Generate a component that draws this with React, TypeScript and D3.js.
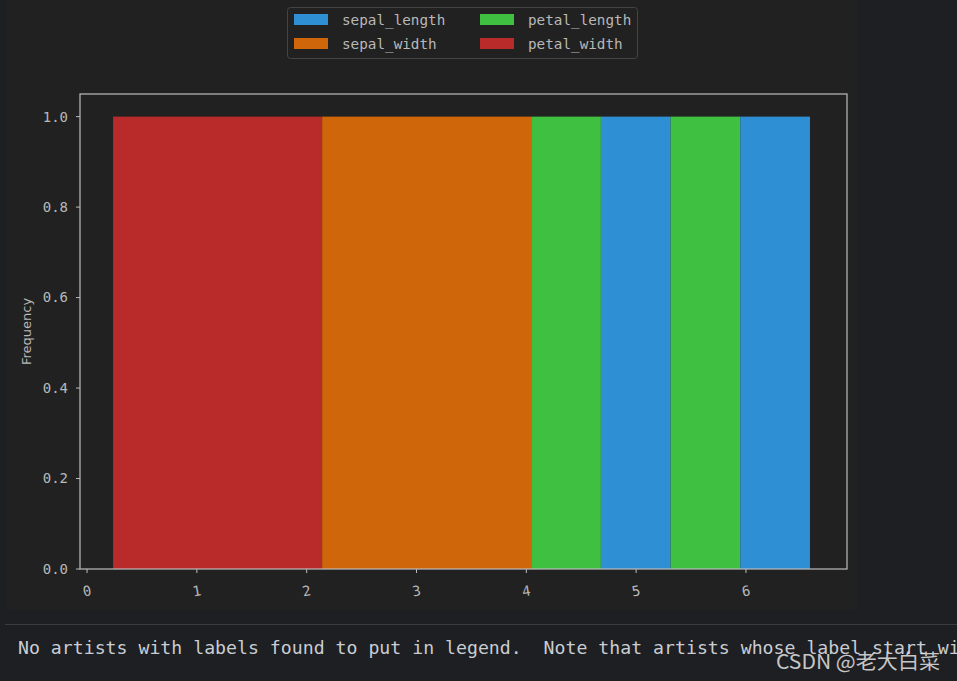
import React from "react";
import * as d3 from "d3";

const seriesNames = ["sepal_length", "sepal_width", "petal_length", "petal_width"];
const seriesColors = ["#2f8fd4", "#d0660a", "#40c040", "#b92a2b"];

// histogram segments (contiguous bins of the same series merged)
const segStart = [0.237, 2.141, 4.044, 4.679, 5.314, 5.948];
const segEnd = [2.141, 4.044, 4.679, 5.314, 5.948, 6.583];
const segSeries = [3, 1, 2, 0, 2, 0];
const segValue = [1, 1, 1, 1, 1, 1];

const xTicks = [0, 1, 2, 3, 4, 5, 6];
const yTicks = [0, 0.2, 0.4, 0.6, 0.8, 1.0];

const warningText =
  "No artists with labels found to put in legend.  Note that artists whose label start with an underscore are ignored when legend() is called with no argument.";

export default function App() {
  const W = 957;
  const H = 681;
  const left = 80, right = 847, top = 94, bottom = 569;
  const x = d3.scaleLinear().domain([-0.064, 6.92]).range([left, right]);
  const y = d3.scaleLinear().domain([0, 1.05]).range([bottom, top]);
  const tickColor = "#b8b8b8";
  const mono = "'DejaVu Sans Mono', 'Liberation Mono', monospace";

  return (
    <svg
      width={W}
      height={H}
      style={{ position: "absolute", left: 0, top: 0, display: "block" }}
    >
      <rect x={0} y={0} width={W} height={H} fill="#1e1f22" />
      <rect x={7} y={0} width={850} height={610} fill="#212121" />
      {/* bars */}
      {segStart.map((s, i) => (
        <rect
          key={i}
          x={x(s)}
          y={y(segValue[i])}
          width={x(segEnd[i]) - x(s)}
          height={y(0) - y(segValue[i])}
          fill={seriesColors[segSeries[i]]}
        />
      ))}
      {/* frame */}
      <rect
        x={left}
        y={top}
        width={right - left}
        height={bottom - top}
        fill="none"
        stroke="#bdbdbd"
        strokeWidth={1.2}
      />
      {/* y ticks */}
      {yTicks.map((t) => (
        <g key={t}>
          <line x1={left - 4} x2={left} y1={y(t)} y2={y(t)} stroke="#bdbdbd" strokeWidth={1} />
          <text
            x={left - 12}
            y={y(t)}
            dy="0.35em"
            textAnchor="end"
            fill={tickColor}
            fontFamily={mono}
            fontSize={14}
          >
            {d3.format(".1f")(t)}
          </text>
        </g>
      ))}
      {/* x ticks */}
      {xTicks.map((t) => (
        <g key={t}>
          <line x1={x(t)} x2={x(t)} y1={bottom} y2={bottom + 4} stroke="#bdbdbd" strokeWidth={1} />
          <text
            transform={`translate(${x(t)},${bottom + 22}) rotate(-10)`}
            textAnchor="middle"
            fill={tickColor}
            fontFamily={mono}
            fontSize={14}
            dy="0.35em"
          >
            {t}
          </text>
        </g>
      ))}
      <text
        transform={`translate(${31},${(top + bottom) / 2}) rotate(-90)`}
        textAnchor="middle"
        fill={tickColor}
        fontFamily="'DejaVu Sans', sans-serif"
        fontSize={13}
      >
        Frequency
      </text>
      {/* legend */}
      <rect x={287.5} y={7.5} width={350} height={51} rx={3} fill="#212121" stroke="#444" strokeWidth={1} />
      {seriesNames.map((n, i) => {
        const col = Math.floor(i / 2);
        const row = i % 2;
        const px = 294 + col * 186;
        const py = 14 + row * 24;
        return (
          <g key={n}>
            <rect x={px} y={py} width={34} height={11} fill={seriesColors[i]} />
            <text
              x={px + 48}
              y={py + 6}
              dy="0.35em"
              fill={tickColor}
              fontFamily={mono}
              fontSize={14.3}
            >
              {n}
            </text>
          </g>
        );
      })}
      {/* output separator and warning */}
      <line x1={5} x2={W} y1={624.5} y2={624.5} stroke="#3b3c3f" strokeWidth={1} />
      <text x={18} y={654} fill="#c9cdd3" fontFamily={mono} fontSize={18.2} style={{ whiteSpace: "pre" }}>
        {warningText}
      </text>
      <text
        x={776}
        y={669}
        fill="#e6e6e6"
        fillOpacity={0.85}
        fontFamily="'Noto Sans CJK SC', 'Noto Sans', sans-serif"
        fontSize={20}
        textLength={164}
        lengthAdjust="spacingAndGlyphs"
      >
        CSDN @老大白菜
      </text>
    </svg>
  );
}
